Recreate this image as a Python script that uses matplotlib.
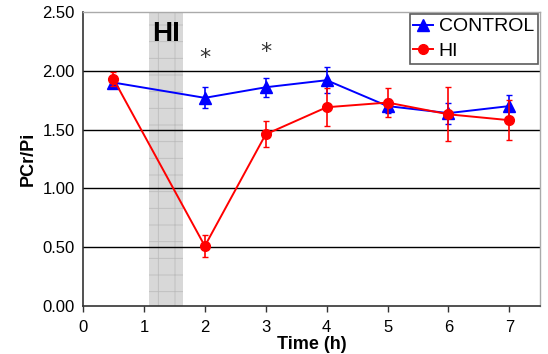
import matplotlib
matplotlib.use("Agg")
import matplotlib.pyplot as plt
import numpy as np

plt.rcParams['font.family'] = ['Liberation Sans', 'DejaVu Sans']
plt.rcParams['hatch.linewidth'] = 0.6

# data
time = [0.5, 2, 3, 4, 5, 6, 7]
control = [1.90, 1.77, 1.86, 1.92, 1.70, 1.64, 1.70]
control_err = [0.03, 0.09, 0.08, 0.11, 0.06, 0.09, 0.09]
hi = [1.93, 0.51, 1.46, 1.69, 1.73, 1.63, 1.58]
hi_err = [0.06, 0.095, 0.11, 0.16, 0.12, 0.23, 0.17]

hi_window = (1.08, 1.64)
star_x = [2, 3]
star_y = [2.11, 2.16]
yticks = [0.0, 0.5, 1.0, 1.5, 2.0, 2.5]
xticks = [0, 1, 2, 3, 4, 5, 6, 7]

fig = plt.figure(figsize=(5.48, 3.54), dpi=100)
ax = fig.add_axes([0.1515, 0.1356, 0.8335, 0.8305])

# shaded hypoxia-ischemia window
ax.axvspan(hi_window[0], hi_window[1], facecolor='#d8d8d8', edgecolor='#bdbdbd',
           hatch='+', linewidth=0, zorder=0)
ax.text(sum(hi_window) / 2, 2.31, 'HI', ha='center', va='center',
        fontsize=20, fontweight='bold', zorder=1)

for y in yticks[1:-1]:
    ax.axhline(y, color='black', lw=1.0, zorder=1)

c = ax.errorbar(time, control, yerr=control_err, color='blue', marker='^', ms=8,
                lw=1.4, capsize=2.5, elinewidth=1.2, zorder=3)
h = ax.errorbar(time, hi, yerr=hi_err, color='red', marker='o', ms=7,
                lw=1.4, capsize=2.5, elinewidth=1.2, zorder=4)

for sx, sy in zip(star_x, star_y):
    ax.text(sx, sy, '*', ha='center', va='center', fontsize=16, color='#333333',
            family='DejaVu Sans')

ax.set_xlim(0, 7.5)
ax.set_ylim(0, 2.5)
ax.set_xticks(xticks)
ax.set_yticks(yticks)
ax.set_yticklabels([f"{v:.2f}" for v in yticks])
ax.tick_params(axis='both', labelsize=12)
ax.tick_params(axis='x', direction='out', length=4, width=1, color='#333333', pad=6)
ax.tick_params(axis='y', length=0, pad=6)

for side in ['left', 'bottom']:
    ax.spines[side].set_color('#333333')
    ax.spines[side].set_linewidth(1.2)
for side in ['top', 'right']:
    ax.spines[side].set_color('#aaaaaa')
    ax.spines[side].set_linewidth(1.0)

ax.set_ylabel('PCr/Pi', fontsize=13, fontweight='bold', labelpad=4)
ax.set_xlabel('Time (h)', fontsize=13, fontweight='bold', labelpad=1)

leg = ax.legend([c[0], h[0]], ['CONTROL', 'HI'], loc='upper right', fontsize=14,
                frameon=True, fancybox=False, borderpad=0.2, handlelength=1.0,
                handletextpad=0.3, labelspacing=0.35, borderaxespad=0.1)
leg.get_frame().set_edgecolor('#333333')
leg.get_frame().set_linewidth(1.2)

fig.savefig('out.png', dpi=100)
